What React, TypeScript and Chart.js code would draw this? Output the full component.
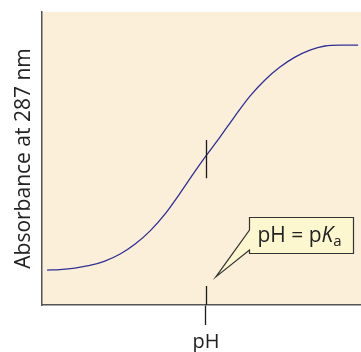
import React, { useEffect, useRef } from "react";
import { Chart, registerables } from "chart.js";

Chart.register(...registerables);

// Curve (x: relative pH scale 0–100, y: relative absorbance 0–100)
const phValues = [1.6, 5.6, 10.3, 15.0, 19.7, 24.5, 29.2, 33.9, 38.6, 43.3, 48.0, 51.4, 55.8, 60.5, 65.2, 69.9, 74.6, 79.3, 84.0, 88.7, 93.4, 99.1];
const absorbance = [11.9, 12.1, 12.6, 13.5, 15.0, 17.4, 20.8, 25.3, 31.1, 38.2, 45.7, 50.9, 57.3, 64.5, 71.3, 76.8, 81.2, 84.6, 87.0, 88.4, 88.7, 88.7];

const PKA = 51.4;
const xTickLabels = ["pH"];
const yTitle = "Absorbance at 287 nm";

// annotation callout (data units)
const calloutTip = [54.5, 9.6];
const calloutBox = [64.9, 30.0, 97.5, 17.7]; // x1, yTop, x2, yBottom
const calloutNotch = [25.6, 18.8]; // y of notch top & bottom on the box's left side
const midTick = [56.3, 43.3];
const innerTick = [0, 6.5];

const FONT = "'Open Sans', 'Noto Sans', sans-serif";

const decorPlugin = {
  id: "decor",
  beforeDraw(chart: any) {
    const { ctx, chartArea } = chart;
    ctx.save();
    ctx.fillStyle = "#fcefda";
    ctx.fillRect(chartArea.left, chartArea.top, chartArea.right - chartArea.left, chartArea.bottom - chartArea.top);
    ctx.restore();
  },
  afterDraw(chart: any) {
    const { ctx } = chart;
    const xs = chart.scales.x;
    const ys = chart.scales.y;
    const px = (v: number) => xs.getPixelForValue(v);
    const py = (v: number) => ys.getPixelForValue(v);
    ctx.save();
    // ticks
    ctx.strokeStyle = "#1a1a1a";
    ctx.lineWidth = 1.3;
    const tx = Math.round(px(PKA)) + 0.5;
    ctx.beginPath();
    ctx.moveTo(tx, py(midTick[0]));
    ctx.lineTo(tx, py(midTick[1]));
    ctx.moveTo(tx, py(innerTick[0]));
    ctx.lineTo(tx, py(innerTick[1]));
    ctx.stroke();

    // callout
    const x1 = Math.round(px(calloutBox[0])) + 0.5;
    const x2 = Math.round(px(calloutBox[2])) + 0.5;
    const y1 = Math.round(py(calloutBox[1])) + 0.5;
    const y2 = Math.round(py(calloutBox[3])) + 0.5;
    const n1 = py(calloutNotch[0]);
    const n2 = py(calloutNotch[1]);
    const tipX = px(calloutTip[0]);
    const tipY = py(calloutTip[1]);
    ctx.beginPath();
    ctx.moveTo(x1, y1);
    ctx.lineTo(x2, y1);
    ctx.lineTo(x2, y2);
    ctx.lineTo(x1, y2);
    ctx.lineTo(x1, n2);
    ctx.lineTo(tipX, tipY);
    ctx.lineTo(x1, n1);
    ctx.closePath();
    ctx.fillStyle = "#fdf7d0";
    ctx.fill();
    ctx.strokeStyle = "#333333";
    ctx.lineWidth = 1.2;
    ctx.lineJoin = "miter";
    ctx.stroke();

    // text pH = pKa
    ctx.fillStyle = "#222222";
    ctx.textBaseline = "alphabetic";
    const base = y1 + 24;
    let cx = x1 + 8;
    ctx.font = `21px ${FONT}`;
    const part1 = "pH = p";
    ctx.fillText(part1, cx, base);
    cx += ctx.measureText(part1).width;
    ctx.font = `italic 21px ${FONT}`;
    ctx.fillText("K", cx, base);
    cx += ctx.measureText("K").width;
    ctx.font = `15px ${FONT}`;
    ctx.fillText("a", cx, base + 4);
    ctx.restore();
  },
};

export default function App() {
  const ref = useRef<HTMLCanvasElement | null>(null);
  useEffect(() => {
    if (!ref.current) return;
    const chart = new Chart(ref.current, {
      type: "line",
      data: {
        datasets: [
          {
            data: phValues.map((x, i) => ({ x, y: absorbance[i] })),
            borderColor: "#2f2f96",
            borderWidth: 1.3,
            pointRadius: 0,
            tension: 0.4,
            cubicInterpolationMode: "monotone",
            fill: false,
          },
        ],
      },
      options: {
        animation: false,
        responsive: false,
        events: [],
        layout: { padding: { top: 12, right: 0, left: 0, bottom: 0 } },
        plugins: { legend: { display: false }, tooltip: { enabled: false } },
        scales: {
          x: {
            type: "linear",
            min: 0,
            max: 100,
            afterBuildTicks: (scale: any) => {
              scale.ticks = [{ value: PKA }];
            },
            afterFit: (scale: any) => {
              scale.height = 47;
            },
            ticks: {
              autoSkip: false,
              maxRotation: 0,
              padding: 5,
              color: "#222222",
              font: { family: FONT, size: 20 },
              callback: () => xTickLabels[0],
            },
            grid: {
              drawOnChartArea: false,
              drawTicks: true,
              tickLength: 20,
              tickWidth: 1.3,
              color: "#1a1a1a",
            },
            border: { display: true, color: "#555555", width: 1.5 },
          },
          y: {
            type: "linear",
            min: 0,
            max: 100,
            afterFit: (scale: any) => {
              scale.width = 42;
            },
            ticks: { display: false },
            grid: { display: false },
            border: { display: true, color: "#555555", width: 1.5 },
            title: {
              display: true,
              text: yTitle,
              color: "#222222",
              font: { family: FONT, size: 21 },
              padding: { top: 11, bottom: 0 },
            },
          },
        },
      },
      plugins: [decorPlugin],
    });
    return () => chart.destroy();
  }, []);
  return (
    <div style={{ position: "fixed", left: 0, top: 0, width: 361, height: 352, background: "#ffffff" }}>
      <canvas ref={ref} width={361} height={352} style={{ display: "block" }} />
    </div>
  );
}
